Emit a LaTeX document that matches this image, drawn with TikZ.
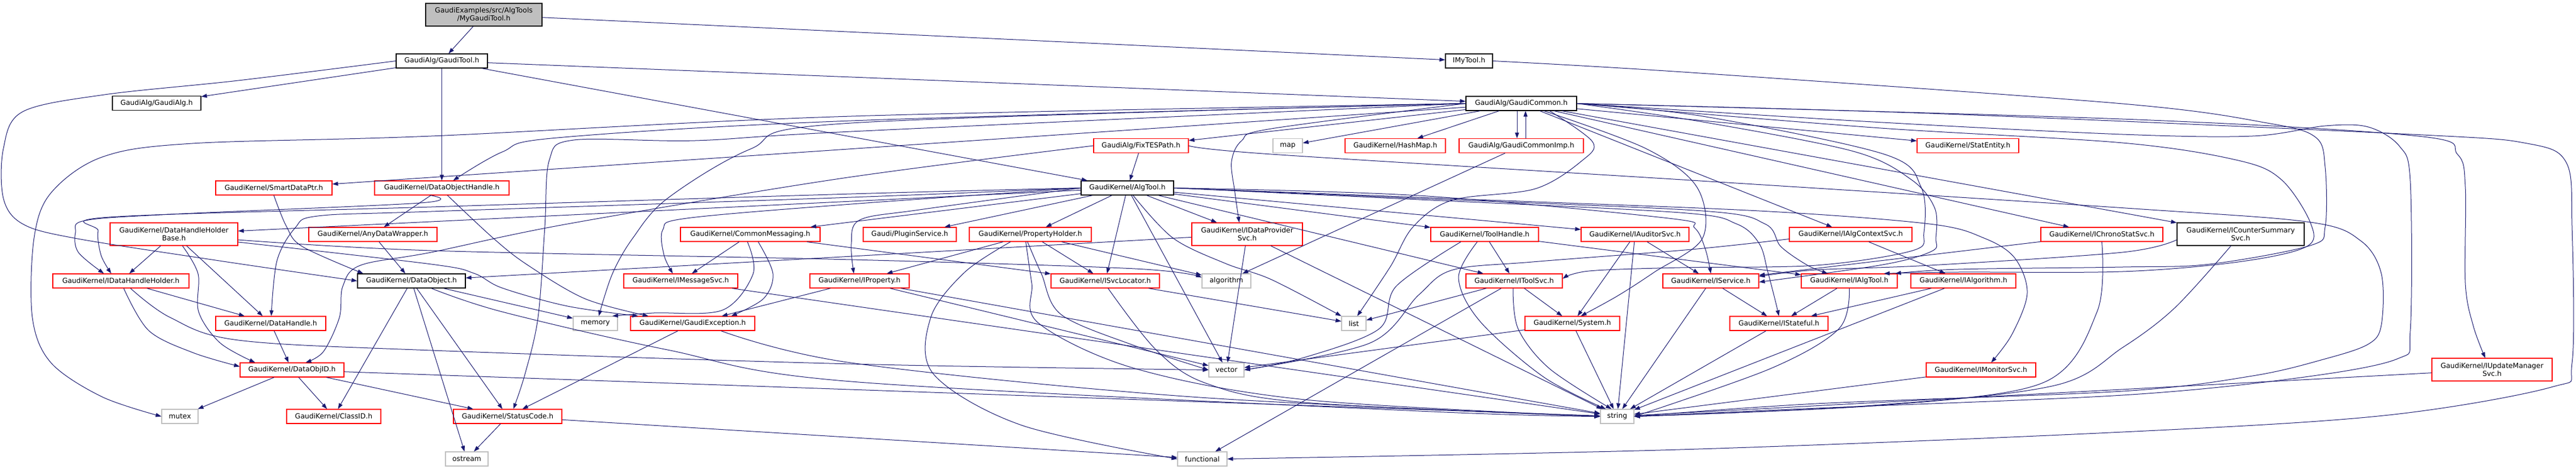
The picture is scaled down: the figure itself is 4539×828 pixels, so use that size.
\documentclass[tikz,border=0pt]{standalone}
\usepackage{fontspec}
\setmainfont{DejaVu Sans}
\usetikzlibrary{arrows.meta}
\definecolor{edgecol}{HTML}{191970}
\definecolor{redc}{HTML}{FF0000}
\definecolor{grayc}{HTML}{BFBFBF}
\tikzset{
  nbox/.style={rectangle, draw, line width=1.2pt, inner sep=0pt, minimum height=25pt,
    font=\fontsize{12.3}{14.5}\selectfont, align=center, fill=white},
  rbox/.style={nbox, draw=redc},
  kbox/.style={nbox, draw=black},
  gbox/.style={nbox, draw=grayc},
  rootbox/.style={nbox, draw=black, fill=grayc},
  conn/.style={draw=edgecol, line width=1pt, -{Triangle[length=10pt,width=7pt]}},
}
\begin{document}
\begin{tikzpicture}[x=1pt,y=-1pt]
\useasboundingbox (0,0) rectangle (4539,828);
\fill[white] (0,0) rectangle (4539,828);
% ---------------- nodes ----------------
\node[rootbox, minimum width=205pt, minimum height=40pt] (mgt) at (852.5,26) {GaudiExamples/src/AlgTools\\/MyGaudiTool.h};
\node[kbox, minimum width=161pt] (gtool) at (778.5,107.5) {GaudiAlg/GaudiTool.h};
\node[kbox, minimum width=83pt] (imytool) at (2588.5,107.5) {IMyTool.h};
\node[kbox, minimum width=156pt] (galg) at (276,182) {GaudiAlg/GaudiAlg.h};
\node[kbox, minimum width=195pt] (gcommon) at (2680.5,182.5) {GaudiAlg/GaudiCommon.h};
\node[rbox, minimum width=205pt] (smartdp) at (482.5,331.5) {GaudiKernel/SmartDataPtr.h};
\node[rbox, minimum width=237pt] (dobjh) at (778.5,331.5) {GaudiKernel/DataObjectHandle.h};
\node[rbox, minimum width=167pt] (fixtes) at (2010.5,257) {GaudiAlg/FixTESPath.h};
\node[kbox, minimum width=163pt] (algtool) at (1986.5,331.5) {GaudiKernel/AlgTool.h};
\node[gbox, minimum width=52pt] (map) at (2269,257) {map};
\node[rbox, minimum width=177pt] (hashmap) at (2458.5,257) {GaudiKernel/HashMap.h};
\node[rbox, minimum width=219pt] (gcimp) at (2680.5,257) {GaudiAlg/GaudiCommonImp.h};
\node[rbox, minimum width=179pt] (statentity) at (3467.5,257) {GaudiKernel/StatEntity.h};
\node[rbox, minimum width=225pt, minimum height=40pt] (dhhb) at (306.5,413) {GaudiKernel/DataHandleHolder\\Base.h};
\node[rbox, minimum width=226pt] (anydw) at (657,413.5) {GaudiKernel/AnyDataWrapper.h};
\node[rbox, minimum width=246pt] (commsg) at (1322,413.5) {GaudiKernel/CommonMessaging.h};
\node[rbox, minimum width=164pt] (plugin) at (1603,413.5) {Gaudi/PluginService.h};
\node[rbox, minimum width=215pt] (propholder) at (1815.5,413.5) {GaudiKernel/PropertyHolder.h};
\node[rbox, minimum width=195pt, minimum height=40pt] (idps) at (2197.5,413) {GaudiKernel/IDataProvider\\Svc.h};
\node[rbox, minimum width=190pt] (toolhandle) at (2616,413.5) {GaudiKernel/ToolHandle.h};
\node[rbox, minimum width=190pt] (iauditor) at (2881,413.5) {GaudiKernel/IAuditorSvc.h};
\node[rbox, minimum width=216pt] (ialgctx) at (3261,413.5) {GaudiKernel/IAlgContextSvc.h};
\node[rbox, minimum width=215pt] (ichrono) at (3703.5,413.5) {GaudiKernel/IChronoStatSvc.h};
\node[kbox, minimum width=224pt, minimum height=40pt] (icounter) at (3948,413) {GaudiKernel/ICounterSummary\\Svc.h};
\node[rbox, minimum width=240pt] (idhh) at (213,495.5) {GaudiKernel/IDataHandleHolder.h};
\node[kbox, minimum width=190pt] (dataobject) at (725,495.5) {GaudiKernel/DataObject.h};
\node[rbox, minimum width=201pt] (imsgsvc) at (1199.5,495.5) {GaudiKernel/IMessageSvc.h};
\node[rbox, minimum width=175pt] (iproperty) at (1514.5,495.5) {GaudiKernel/IProperty.h};
\node[rbox, minimum width=191pt] (isvcloc) at (1947.5,495.5) {GaudiKernel/ISvcLocator.h};
\node[gbox, minimum width=86pt] (algorithm) at (2161,495.5) {algorithm};
\node[rbox, minimum width=170pt] (itoolsvc) at (2668,495.5) {GaudiKernel/IToolSvc.h};
\node[rbox, minimum width=169pt] (iservice) at (3014.5,495.5) {GaudiKernel/IService.h};
\node[rbox, minimum width=169pt] (ialgtool) at (3258.5,495.5) {GaudiKernel/IAlgTool.h};
\node[rbox, minimum width=185pt] (ialgorithm) at (3459.5,495.5) {GaudiKernel/IAlgorithm.h};
\node[rbox, minimum width=194pt] (datahandle) at (477,570.5) {GaudiKernel/DataHandle.h};
\node[gbox, minimum width=78pt] (memory) at (1049,570.5) {memory};
\node[rbox, minimum width=219pt] (gexc) at (1220.5,570.5) {GaudiKernel/GaudiException.h};
\node[gbox, minimum width=43pt] (list) at (2385.5,570.5) {list};
\node[rbox, minimum width=167pt] (system) at (2770.5,570.5) {GaudiKernel/System.h};
\node[rbox, minimum width=173pt] (istateful) at (3134.5,570.5) {GaudiKernel/IStateful.h};
\node[rbox, minimum width=183pt] (dataobjid) at (514.5,652.5) {GaudiKernel/DataObjID.h};
\node[gbox, minimum width=62pt] (vector) at (2161,652.5) {vector};
\node[rbox, minimum width=193pt] (imonitor) at (3490.5,652.5) {GaudiKernel/IMonitorSvc.h};
\node[rbox, minimum width=212pt, minimum height=40pt] (iupdate) at (4391,652) {GaudiKernel/IUpdateManager\\Svc.h};
\node[gbox, minimum width=64pt] (mutex) at (317,734.5) {mutex};
\node[rbox, minimum width=166pt] (classid) at (588,734.5) {GaudiKernel/ClassID.h};
\node[rbox, minimum width=191pt] (statuscode) at (894.5,734.5) {GaudiKernel/StatusCode.h};
\node[gbox, minimum width=59pt] (string) at (2849.5,734.5) {string};
\node[gbox, minimum width=75pt] (ostream) at (822.5,809.5) {ostream};
\node[gbox, minimum width=87pt] (functional) at (2118.5,809.5) {functional};
% ---------------- straight connectors ----------------
\begin{scope}[on background layer/.try]
\foreach \a/\b in {mgt/gtool, mgt/imytool, gtool/galg, gtool/gcommon, gtool/dobjh, gtool/algtool,
  gcommon/smartdp, gcommon/fixtes, gcommon/map, gcommon/hashmap, gcommon/statentity,
  gcommon/ialgctx, gcommon/ichrono, gcommon/icounter,
  fixtes/algtool,
  algtool/dhhb, algtool/commsg, algtool/plugin, algtool/propholder, algtool/idps, algtool/isvcloc,
  algtool/vector, algtool/toolhandle, algtool/iauditor, algtool/itoolsvc,
  dobjh/anydw, anydw/dataobject, idps/dataobject, idps/vector, idps/string,
  dhhb/idhh, dhhb/datahandle, idhh/datahandle, datahandle/dataobjid,
  dataobjid/mutex, dataobjid/classid, dataobjid/statuscode, dataobjid/string,
  dataobject/classid, dataobject/ostream, dataobject/statuscode, dataobject/memory,
  commsg/imsgsvc, commsg/isvcloc, iproperty/gexc,
  imsgsvc/string, gexc/statuscode, statuscode/ostream, statuscode/functional,
  propholder/iproperty, propholder/isvcloc, propholder/algorithm,
  iproperty/vector, iproperty/string, isvcloc/list,
  toolhandle/itoolsvc, toolhandle/ialgtool,
  iauditor/system, iauditor/string, iauditor/iservice,
  itoolsvc/list, itoolsvc/system, itoolsvc/functional,
  system/string, system/vector,
  iservice/istateful, iservice/string, ialgtool/istateful,
  ialgorithm/istateful, ialgorithm/string, istateful/string, imonitor/string,
  ialgctx/ialgorithm, ichrono/iservice, iupdate/string, gcimp/algorithm}
  \draw[conn] (\a) -- (\b);
\end{scope}
\draw[conn] ([xshift=-7.5pt]gcommon.south) -- ([xshift=-7.5pt]gcimp.north);
\draw[conn] ([xshift=7.5pt]gcimp.north) -- ([xshift=7.5pt]gcommon.south);
% ---------------- curved connectors ----------------
\draw[conn] plot[smooth, tension=0.55] coordinates {(gtool.west) (420,142) (184,167) (40,197) (6,262) (6,350) (40,395) (131,420) (380,459) (dataobject.west)};
\draw[conn] plot[smooth, tension=0.55] coordinates {(imytool.east) (2980,128) (3740,183) (3995,217) (4080,242) (4097,295) (4097,400) (4071,433) (3893,466) (3740,471) (3450,475) ([xshift=-4pt]ialgtool.north east)};
\draw[conn] plot[smooth, tension=0.55] coordinates {(gcommon.east) (3300,225) (3740,252) (3944,283) (4020,317) (4071,393) (4064,435) (3944,462) (3740,479) (3450,480) ([xshift=-24pt]ialgtool.north east)};
\draw[conn] plot[smooth, tension=0.55] coordinates {(gcommon.west) (1500,205) (760,240) (339,253) (180,277) (90,340) (60,420) (57,560) (90,640) (180,700) (mutex.west)};
\draw[conn] plot[smooth, tension=0.55] coordinates {(gcommon.west) (1500,232) (1225,248) (1011,247) (968,282) (960,400) (948,560) (925,660) ([xshift=10pt]statuscode.north)};
\draw[conn] plot[smooth, tension=0.55] coordinates {(gcommon.west) (1500,217) (1322,263) (1176,350) (1115,420) (1079,483) ([xshift=6pt]memory.north)};
\draw[conn] plot[smooth, tension=0.55] coordinates {(gcommon.west) (1500,213) (982,243) (885,268) ([xshift=20pt]dobjh.north)};
\draw[conn] plot[smooth, tension=0.55] coordinates {(gcommon.west) (2240,227) (2188,248) (2170,285) (2176,340) ([xshift=-14pt]idps.north)};
\draw[conn] plot[smooth, tension=0.55] coordinates {(gcommon.east) (3400,200) (4250,237) (4453,253) (4522,287) (4532,400) (4532,640) (4495,683) (4200,733) (3740,762) (2960,793) (functional.east)};
\draw[conn] plot[smooth, tension=0.55] coordinates {(gcommon.east) (3300,215) (3740,237) (3969,240) (4097,222) (4173,224) (4228,258) (4247,320) (4247,583) (4224,633) (4046,667) (3740,697) (3200,720) (string.east)};
\draw[conn] plot[smooth, tension=0.55] coordinates {(gcommon.east) (3740,210) (4260,240) (4330,272) (4344,330) (4344,500) (4358,575) ([xshift=-12pt]iupdate.north)};
\draw[conn] plot[smooth, tension=0.55] coordinates {(gcommon.east) (3000,215) (3266,267) (3368,317) (3409,367) (3411,420) (3404,443) (3317,467) ([yshift=-2pt]iservice.east)};
\draw[conn] plot[smooth, tension=0.55] coordinates {(gcommon.east) (3000,205) (3320,272) (3385,330) (3390,410) (3370,442) (3200,468) (2960,472) (2800,478) ([yshift=4pt]itoolsvc.east)};
\draw[conn] plot[smooth, tension=0.55] coordinates {([xshift=40pt]gcommon.south) (2900,262) (2990,330) (3000,420) (2915,480) (2850,522) ([xshift=15pt]system.north)};
\draw[conn] plot[smooth, tension=0.55] coordinates {([xshift=50pt]gcommon.south) (2806,250) (2788,283) (2705,333) (2559,353) (2490,400) (2450,470) ([xshift=6pt]list.north)};
\draw[conn] plot[smooth, tension=0.55] coordinates {(fixtes.east) (2240,272) (2980,318) (3760,368) (4071,392) (4160,425) (4196,483) (4196,573) (4173,607) (4097,633) (3969,663) (3740,690) (3200,712) (string.east)};
\draw[conn] plot[smooth, tension=0.55] coordinates {(fixtes.west) (1480,315) (1000,395) (760,445) (635,468) (604,505) (598,560) (570,620) ([xshift=24pt]dataobjid.north)};
\draw[conn] plot[smooth, tension=0.55] coordinates {(algtool.west) (1500,342) (760,365) (192,383) (173,407) (178,450) ([xshift=-17pt]idhh.north)};
\draw[conn] plot[smooth, tension=0.55] coordinates {([xshift=-20pt]dobjh.south) (740,358) (300,378) (150,389) (133,410) (138,445) ([xshift=-30pt]idhh.north)};
\draw[conn] plot[smooth, tension=0.55] coordinates {(algtool.west) (1500,348) (760,373) (560,381) (520,402) (488,460) ([xshift=1pt]datahandle.north)};
\draw[conn] plot[smooth, tension=0.55] coordinates {(algtool.west) (1620,370) (1515,388) (1500,430) ([xshift=-10pt]iproperty.north)};
\draw[conn] plot[smooth, tension=0.55] coordinates {(algtool.west) (1500,360) (1210,385) (1168,405) (1170,450) ([xshift=-14pt]imsgsvc.north)};
\draw[conn] plot[smooth, tension=0.55] coordinates {([xshift=10pt]algtool.south) (2067,420) (2160,465) (2240,493) (list.north west)};
\draw[conn] plot[smooth, tension=0.55] coordinates {(algtool.east) (2500,345) (2940,385) (2986,402) (3005,440) (iservice.north)};
\draw[conn] plot[smooth, tension=0.55] coordinates {(algtool.east) (2500,350) (3000,372) (3110,395) (3138,435) (3185,468) ([xshift=-38pt]ialgtool.north)};
\draw[conn] plot[smooth, tension=0.55] coordinates {(algtool.east) (2500,352) (2960,375) (3060,395) (3100,430) (3115,480) (3128,530) (istateful.north)};
\draw[conn] plot[smooth, tension=0.55] coordinates {(algtool.east) (2600,352) (3100,372) (3400,395) (3496,420) (3550,455) (3572,517) (3545,590) ([xshift=18pt]imonitor.north)};
\draw[conn] plot[smooth, tension=0.55] coordinates {(smartdp.south) (505,400) (533,435) ([xshift=-85pt]dataobject.north)};
\draw[conn] plot[smooth, tension=0.55] coordinates {([xshift=10pt]dobjh.south) (869,420) (929,467) (1031,527) ([xshift=-78pt]gexc.north)};
\draw[conn] plot[smooth, tension=0.55] coordinates {([yshift=-10pt]dhhb.east) (760,442) (1500,458) (2000,474) ([yshift=6pt]algorithm.west)};
\draw[conn] plot[smooth, tension=0.55] coordinates {([yshift=-14pt]dhhb.east) (760,466) (835,482) (885,508) (1000,540) ([xshift=-96pt]gexc.north)};
\draw[conn] plot[smooth, tension=0.55] coordinates {([xshift=15pt]dhhb.south) (349,483) (350,550) (388,605) ([xshift=-65pt]dataobjid.north)};
\draw[conn] plot[smooth, tension=0.55] coordinates {([xshift=5pt]idhh.south) (262,583) (340,622) ([yshift=6pt]dataobjid.west)};
\draw[conn] plot[smooth, tension=0.55] coordinates {([xshift=17pt]idhh.south) (300,560) (420,600) (760,618) (1500,642) (vector.west)};
\draw[conn] plot[smooth, tension=0.55] coordinates {([xshift=35pt]dataobject.south) (885,550) (1176,617) (1500,673) (2500,725) (string.west)};
\draw[conn] plot[smooth, tension=0.55] coordinates {([xshift=14pt]commsg.south) (1362,483) (1345,527) ([xshift=68pt]gexc.north)};
\draw[conn] plot[smooth, tension=0.55] coordinates {([xshift=-5pt]commsg.south) (1327,483) (1273,547) (1152,552) ([xshift=30pt]memory.north)};
\draw[conn] plot[smooth, tension=0.55] coordinates {([xshift=50pt]gexc.south) (1500,640) (2100,700) (string.west)};
\draw[conn] plot[smooth, tension=0.55] coordinates {([xshift=-5pt]propholder.south) (1835,483) (1870,555) (2000,610) (vector.west)};
\draw[conn] plot[smooth, tension=0.55] coordinates {([xshift=-8pt]propholder.south) (1818,500) (1830,570) (2000,650) (2300,705) (string.west)};
\draw[conn] plot[smooth, tension=0.55] coordinates {([xshift=-35pt]propholder.south) (1700,480) (1640,560) (1645,660) (1800,750) (functional.west)};
\draw[conn] plot[smooth, tension=0.55] coordinates {([xshift=5pt]isvcloc.south) (2037,617) (2125,676) (2300,710) (string.west)};
\draw[conn] plot[smooth, tension=0.55] coordinates {([xshift=-13pt]toolhandle.south) (2570,490) (2608,567) (2720,665) ([xshift=-20pt]string.north)};
\draw[conn] plot[smooth, tension=0.55] coordinates {([xshift=-42pt]toolhandle.south) (2460,505) (2430,580) (2300,630) (vector.east)};
\draw[conn] plot[smooth, tension=0.55] coordinates {([xshift=-2pt]itoolsvc.south) (2675,580) (2730,650) ([xshift=-10pt]string.north)};
\draw[conn] plot[smooth, tension=0.55] coordinates {(ialgtool.south) (3240,580) (3120,650) (string.east)};
\draw[conn] plot[smooth, tension=0.55] coordinates {([yshift=-8pt]ialgctx.west) (2980,440) (2700,462) (2560,476) (2500,520) (2414,605) (vector.east)};
\draw[conn] plot[smooth, tension=0.55] coordinates {(ichrono.south) (3695,550) (3600,675) (3300,715) (string.east)};
\draw[conn] plot[smooth, tension=0.55] coordinates {([xshift=-17pt]icounter.south) (3832,543) (3740,613) (3620,680) (3300,716) (string.east)};
\draw[conn] plot[smooth, tension=0.55] coordinates {([yshift=-10pt]icounter.west) (3740,445) (3400,468) (3200,476) ([yshift=8pt]iservice.east)};
\end{tikzpicture}
\end{document}
